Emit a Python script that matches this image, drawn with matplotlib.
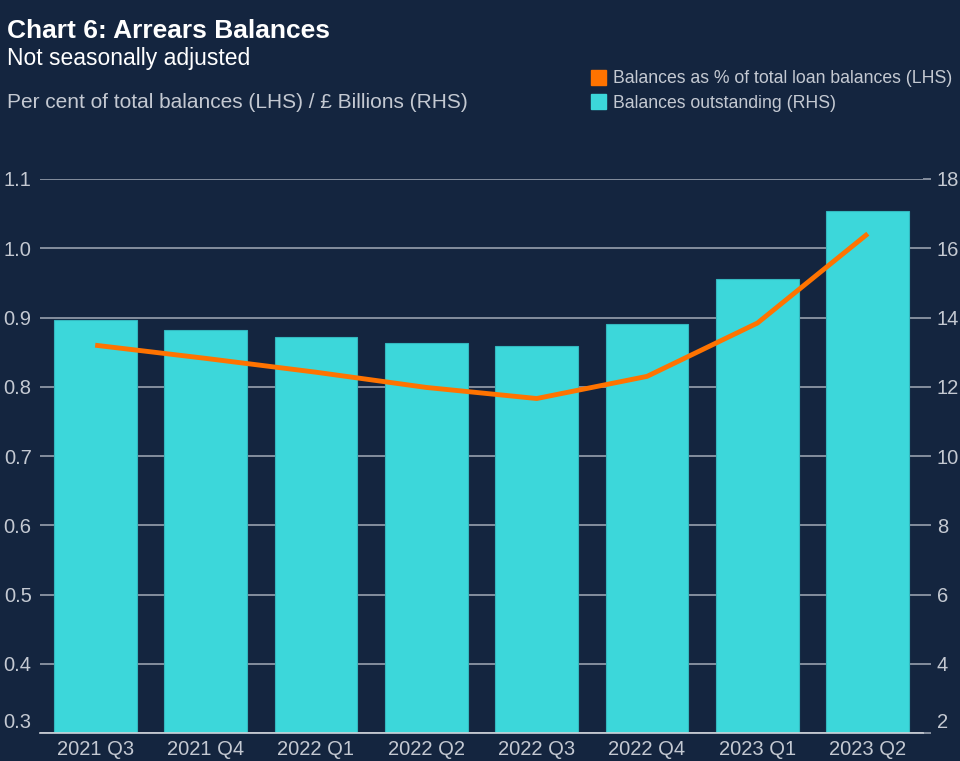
import matplotlib.pyplot as plt
import matplotlib.transforms as mtransforms
from matplotlib.patches import Patch
import numpy as np

plt.rcParams['font.family'] = ['Liberation Sans', 'DejaVu Sans']

quarters = ['2021 Q3', '2021 Q4', '2022 Q1', '2022 Q2', '2022 Q3', '2022 Q4', '2023 Q1', '2023 Q2']
balances_bn = [13.93, 13.64, 13.43, 13.26, 13.17, 13.81, 15.11, 17.08]
arrears_pct = [0.860, 0.841, 0.821, 0.799, 0.783, 0.815, 0.892, 1.021]

bg = '#14253f'
bar_col = '#3cd7da'
line_col = '#ff7300'
txt = '#c4c9d2'
grid_col = '#8d96a5'

fig = plt.figure(figsize=(9.6, 7.61), dpi=100, facecolor=bg)
ax = fig.add_axes([40 / 960, 1 - 733 / 761, 883 / 960, 554 / 761])
ax.set_facecolor(bg)
ax2 = ax.twinx()

x = np.arange(len(quarters))
# bars on RHS, line on LHS
ax2.bar(x, balances_bn, width=0.75, color=bar_col, edgecolor='#33b8bf', linewidth=0.8, zorder=2)
ax2.set_ylim(2, 18)
ax2.set_yticks(range(2, 19, 2))
ax2.grid(axis='y', color=grid_col, linewidth=1.3, zorder=0)
ax2.set_axisbelow(True)

ax.set_zorder(ax2.get_zorder() + 1)
ax.patch.set_visible(False)
ax.plot(x, arrears_pct, color=line_col, linewidth=3.5, solid_capstyle='butt', zorder=3)
ax.set_ylim(0.3, 1.1)
ax.set_yticks(np.round(np.arange(0.3, 1.11, 0.1), 1))
ax.set_xlim(-0.5, len(quarters) - 0.5)
ax.set_xticks(x)
ax.set_xticklabels(quarters)

for a in (ax, ax2):
    for s in a.spines.values():
        s.set_visible(False)
    a.tick_params(colors=txt, labelsize=14.5, length=0)
ax.spines['bottom'].set_visible(True)
ax.spines['bottom'].set_color('#d0d4da')
ax.spines['bottom'].set_linewidth(1.2)
ax.tick_params(axis='y', pad=6)
ax.tick_params(axis='x', pad=5)
ax2.tick_params(axis='y', length=6, width=1.3, color=grid_col, pad=4)

# lowest labels sit a little above the baseline
shift = mtransforms.ScaledTranslation(0, 12 / 100, fig.dpi_scale_trans)
fig.canvas.draw()
for a in (ax, ax2):
    lbl = a.get_yticklabels()[0]
    lbl.set_transform(lbl.get_transform() + shift)

fig.text(7 / 960, 1 - 31 / 761, 'Chart 6: Arrears Balances', color='white', fontsize=19,
         fontweight='bold', va='center')
fig.text(7 / 960, 1 - 59 / 761, 'Not seasonally adjusted', color='white', fontsize=16.5, va='center')
fig.text(7 / 960, 1 - 102 / 761, 'Per cent of total balances (LHS) / \u00a3 Billions (RHS)',
         color=txt, fontsize=15, va='center')

handles = [Patch(facecolor=line_col, edgecolor=line_col),
           Patch(facecolor=bar_col, edgecolor=bar_col)]
labels = ['Balances as % of total loan balances (LHS)', 'Balances outstanding (RHS)']
leg = fig.legend(handles, labels, loc='upper left', bbox_to_anchor=(591 / 960, 1 - 70 / 761),
                 frameon=False, fontsize=12.7, labelcolor=txt, handlelength=0.85, handleheight=0.9,
                 handletextpad=0.4, labelspacing=0.38, borderaxespad=0, borderpad=0)

fig.savefig('out.png', dpi=100, facecolor=bg)
